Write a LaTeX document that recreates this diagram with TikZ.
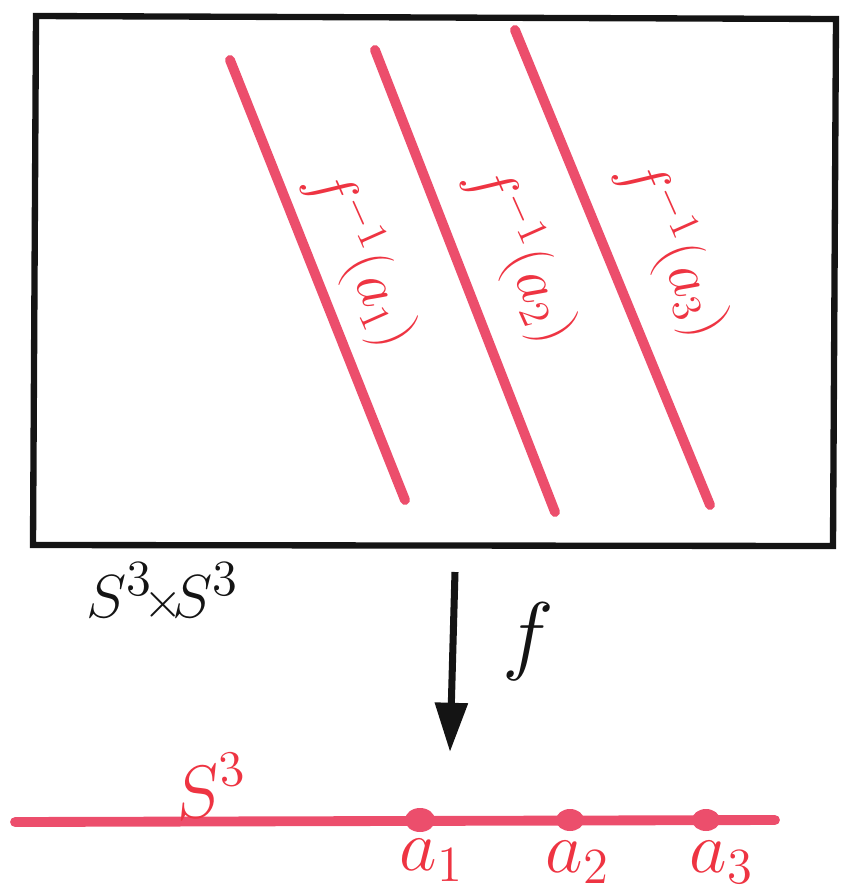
\documentclass[tikz,border=0pt]{standalone}
\usepackage{xcolor}
\definecolor{crayon}{RGB}{236,78,108}
\definecolor{inkred}{RGB}{238,52,66}
\definecolor{pencil}{RGB}{20,20,20}
\usepackage{tikz}
\usetikzlibrary{arrows.meta,positioning,calc}
\tikzset{
  fibre/.style={crayon,line width=2.8pt,line cap=round},
  fibrelabel/.style={inkred,font=\fontsize{17}{20}\selectfont,rotate=-66,inner sep=0pt},
  pointlabel/.style={inkred,font=\fontsize{22}{26}\selectfont,inner sep=0pt},
}
\begin{document}
\begin{tikzpicture}[x=0.01cm,y=-0.01cm]
  \useasboundingbox (0,0) rectangle (842,896);
  %% total space
  \draw[pencil,line width=1.8pt] (36,16) -- (836,19) -- (833,546) -- (33,545) -- cycle;
  \node[pencil,font=\fontsize{19}{22}\selectfont,inner sep=0pt] (prod) at (163,592) {$S^3\!{\scriptstyle\times}\! S^3$};
  %% fibres
  \coordinate (top1) at (230,60);  \coordinate (bot1) at (405,500);
  \coordinate (top2) at (375,50);  \coordinate (bot2) at (555,512);
  \coordinate (top3) at (515,30);  \coordinate (bot3) at (710,505);
  \draw[fibre] (top1) -- (bot1);
  \draw[fibre] (top2) -- (bot2);
  \draw[fibre] (top3) -- (bot3);
  \node[fibrelabel] (lab1) at (362,258) {$f^{-1}(a_1)$};
  \node[fibrelabel] (lab2) at (522,254) {$f^{-1}(a_2)$};
  \node[fibrelabel] (lab3) at (674,248) {$f^{-1}(a_3)$};
  %% the map
  \coordinate (mapsrc) at (455,572);
  \coordinate (maptgt) at (450,752);
  \draw[pencil,line width=2pt,-{Triangle[length=14pt,width=9pt]}] (mapsrc) -- (maptgt);
  \node[pencil,font=\fontsize{30}{34}\selectfont,inner sep=0pt] (mapf) at (528,642) {$f$};
  %% base
  \coordinate (baseL) at (15,822);
  \coordinate (baseR) at (775,820);
  \draw[fibre] (baseL) -- (baseR);
  \node[inkred,font=\fontsize{22}{26}\selectfont,inner sep=0pt,rotate=8] (sphere) at (210,786) {$S^3$};
  \fill[crayon] (420,820) ellipse (15 and 12) coordinate (a1);
  \fill[crayon] (570,820) ellipse (14 and 11) coordinate (a2);
  \fill[crayon] (706,820) ellipse (14 and 11) coordinate (a3);
  \node[pointlabel] (lab a1) at (432,860) {$a_1$};
  \node[pointlabel] (lab a2) at (578,862) {$a_2$};
  \node[pointlabel] (lab a3) at (722,862) {$a_3$};
\end{tikzpicture}
\end{document}
